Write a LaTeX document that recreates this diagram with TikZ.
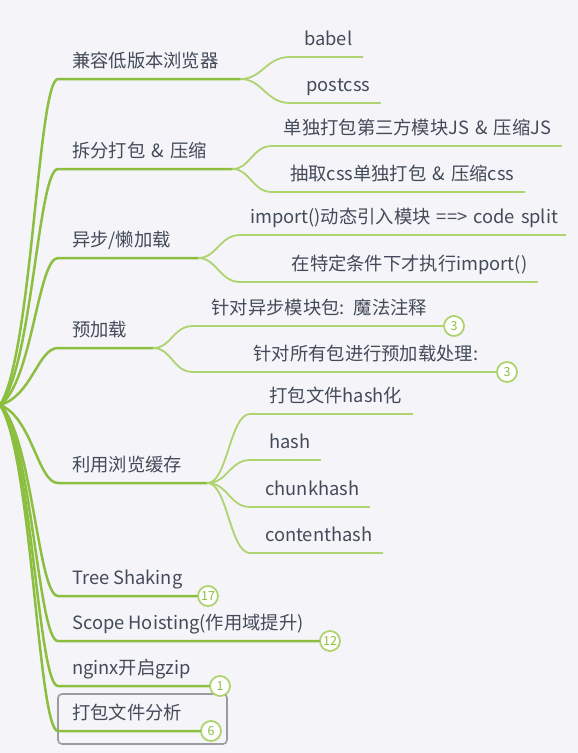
\documentclass[tikz,border=0pt]{standalone}
\usepackage{fontspec}
\setmainfont{Noto Sans CJK SC}
\usetikzlibrary{calc, shapes, backgrounds}
\definecolor{paper}{HTML}{F4F4F9}
\definecolor{branch}{HTML}{8CBF3F}
\definecolor{twigc}{HTML}{AFD36E}
\definecolor{ink}{HTML}{434A58}
\definecolor{framec}{HTML}{9C9C9C}
\tikzstyle{topic} = [anchor=south west, inner xsep=14pt, inner ysep=6pt, text height=13pt, text depth=5pt, text=ink, font=\fontsize{18.3}{22}\selectfont]
\tikzstyle{leaf} = [anchor=south west, inner xsep=10pt, inner ysep=6pt, text height=13pt, text depth=5pt, align=right, text=ink, font=\fontsize{18.3}{22}\selectfont]
\tikzstyle{tally} = [circle, draw=twigc, fill=white, line width=1.8pt, minimum size=20pt, inner sep=0pt, text=branch, font=\fontsize{12.5}{13}\selectfont]
\tikzstyle{trunk} = [draw=branch, line width=2.5pt, line cap=round]
\tikzstyle{twig} = [draw=twigc, line width=1.8pt, line cap=round]
\tikzstyle{picked} = [rectangle, rounded corners=4pt, draw=framec, line width=1.6pt, minimum width=169pt, minimum height=50pt]

\begin{document}
\begin{tikzpicture}[x=1pt, y=-1pt]
	\useasboundingbox (0,0) rectangle (578,753);
	\fill [paper] (0,0) rectangle (578,753);
	\coordinate (root) at (0,405);

	\node(pickbox)[picked] at (142.5,719) {};

	% main topics
	\node(compat)[topic, text width=154pt, align=left] at (58,79) {兼容低版本浏览器};
	\node(split)[topic, text width=146pt, align=left] at (58,169) {拆分打包 \& 压缩};
	\node(lazy)[topic, text width=112pt, align=left] at (58,258) {异步/懒加载};
	\node(preload)[topic, text width=67pt, align=left] at (58,348) {预加载};
	\node(cache)[topic, text width=121pt, align=left] at (58,483) {利用浏览缓存};
	\node(shake)[topic] at (58,596) {Tree Shaking};
	\node(hoist)[topic] at (58,641) {Scope Hoisting(作用域提升)};
	\node(gzip)[topic] at (58,686) {nginx开启gzip};
	\node(analyse)[topic] at (58,731) {打包文件分析};

	% sub topics
	\node(babel)[leaf, text width=52pt] at (290,57) {babel};
	\node(postcss)[leaf, text width=70pt] at (290,103) {postcss};
	\node(vendor)[leaf, text width=269pt] at (272,146) {\mbox{单独打包第三方模块JS \& 压缩JS}};
	\node(cssout)[leaf, text width=232pt] at (272,192) {\mbox{抽取css单独打包 \& 压缩css}};
	\node(dynimport)[leaf, text width=305pt] at (240,235) {\mbox{import()动态引入模块 ==> code split}};
	\node(condimport)[leaf, text width=277pt] at (240,282) {在特定条件下才执行import()};
	\node(magic)[leaf, text width=224pt] at (193,326) {\mbox{针对异步模块包: 魔法注释}};
	\node(allpre)[leaf, text width=275pt] at (193,372) {针对所有包进行预加载处理:};
	\node(hashname)[leaf, text width=142pt] at (250,414) {打包文件hash化};
	\node(hash)[leaf, text width=50pt] at (250,460) {hash};
	\node(chunkhash)[leaf, text width=99pt] at (250,507) {chunkhash};
	\node(contenthash)[leaf, text width=112pt] at (250,553) {contenthash};

	% counters
	\node(magic-n)[tally] at (454,326) {3};
	\node(allpre-n)[tally] at (507,372) {3};
	\node(shake-n)[tally] at (208,596) {17};
	\node(hoist-n)[tally] at (330,641) {12};
	\node(gzip-n)[tally] at (220,686) {1};
	\node(analyse-n)[tally] at (211,731) {6};

	\draw [trunk] (root) .. controls (32,356) and +(-20,0) .. (compat.south west) -- (compat.south east);
	\draw [trunk] (root) .. controls (32,370) and +(-20,0) .. (split.south west) -- (split.south east);
	\draw [trunk] (root) .. controls (32,383) and +(-20,0) .. (lazy.south west) -- (lazy.south east);
	\draw [trunk] (root) .. controls (32,396) and +(-20,0) .. (preload.south west) -- (preload.south east);
	\draw [trunk] (root) .. controls (32,417) and +(-20,0) .. (cache.south west) -- (cache.south east);
	\draw [trunk] (root) .. controls (32,434) and +(-20,0) .. (shake.south west) -- (shake-n);
	\draw [trunk] (root) .. controls (32,440) and +(-20,0) .. (hoist.south west) -- (hoist-n);
	\draw [trunk] (root) .. controls (32,447) and +(-20,0) .. (gzip.south west) -- (gzip-n);
	\draw [trunk] (root) .. controls (32,454) and +(-20,0) .. (analyse.south west) -- (analyse-n);

	\draw [twig] (compat.south east) .. controls +(22,0) and +(-24,0) .. (babel.south west) -- (babel.south east);
	\draw [twig] (compat.south east) .. controls +(22,0) and +(-24,0) .. (postcss.south west) -- (postcss.south east);
	\draw [twig] (split.south east) .. controls +(18,0) and +(-20,0) .. (vendor.south west) -- (vendor.south east);
	\draw [twig] (split.south east) .. controls +(18,0) and +(-20,0) .. (cssout.south west) -- (cssout.south east);
	\draw [twig] (lazy.south east) .. controls +(18,0) and +(-20,0) .. (dynimport.south west) -- (dynimport.south east);
	\draw [twig] (lazy.south east) .. controls +(18,0) and +(-20,0) .. (condimport.south west) -- (condimport.south east);
	\draw [twig] (preload.south east) .. controls +(18,0) and +(-20,0) .. (magic.south west) -- (magic-n);
	\draw [twig] (preload.south east) .. controls +(18,0) and +(-20,0) .. (allpre.south west) -- (allpre-n);
	\draw [twig] (cache.south east) .. controls +(20,0) and +(-20,0) .. (hashname.south west) -- (hashname.south east);
	\draw [twig] (cache.south east) .. controls +(20,0) and +(-20,0) .. (hash.south west) -- (hash.south east);
	\draw [twig] (cache.south east) .. controls +(20,0) and +(-20,0) .. (chunkhash.south west) -- (chunkhash.south east);
	\draw [twig] (cache.south east) .. controls +(20,0) and +(-20,0) .. (contenthash.south west) -- (contenthash.south east);
\end{tikzpicture}
\end{document}
